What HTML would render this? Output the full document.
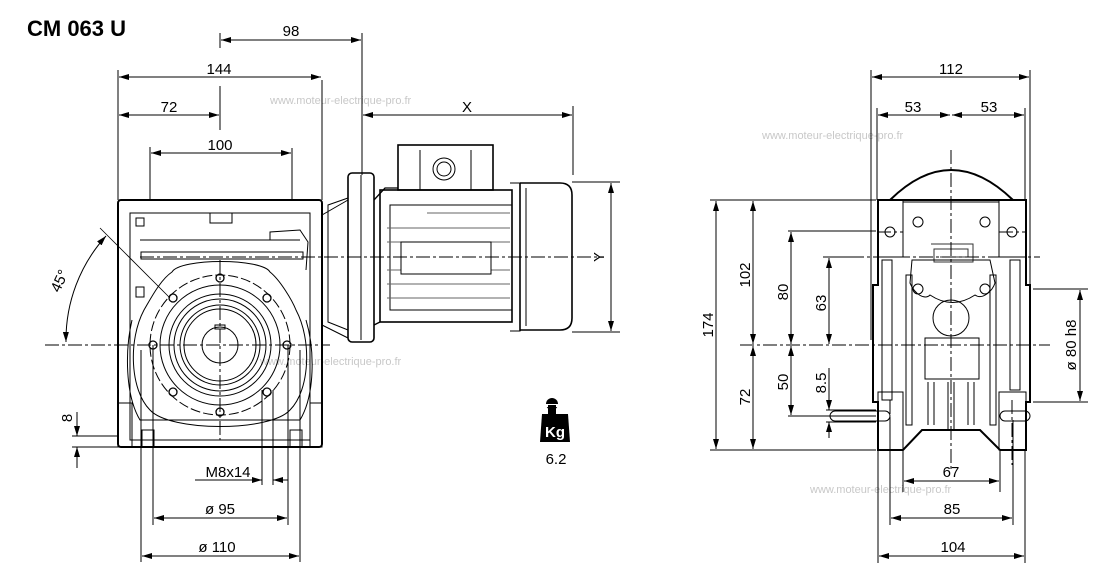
<!DOCTYPE html>
<html><head><meta charset="utf-8"><style>
html,body{margin:0;padding:0;background:#fff;}
svg{display:block;font-family:"Liberation Sans",Arial,sans-serif;}
</style></head><body>
<svg width="1111" height="586" viewBox="0 0 1111 586" xmlns="http://www.w3.org/2000/svg">
<defs>
<marker id="a" viewBox="0 0 10 6" refX="10" refY="3" markerWidth="10" markerHeight="6" orient="auto-start-reverse" markerUnits="userSpaceOnUse"><path d="M0,0 L10,3 L0,6 Z" fill="#000"/></marker>
</defs>
<rect width="1111" height="586" fill="#fff"/>
<text x="27" y="36" font-size="22" font-weight="bold">CM 063 U</text>

<!-- watermarks -->
<g fill="#c8c8c8" font-size="11">
<text x="270" y="104">www.moteur-electrique-pro.fr</text>
<text x="762" y="139">www.moteur-electrique-pro.fr</text>
<text x="260" y="365">www.moteur-electrique-pro.fr</text>
<text x="810" y="493">www.moteur-electrique-pro.fr</text>
</g>

<g stroke="#000" fill="none" stroke-width="1">
<!-- ===== LEFT VIEW dims ===== -->
<line x1="220" y1="33" x2="220" y2="48"/><line x1="362" y1="33" x2="362" y2="175"/>
<line x1="221" y1="40" x2="361" y2="40" marker-start="url(#a)" marker-end="url(#a)"/>
<line x1="118" y1="70" x2="118" y2="200"/><line x1="322" y1="80" x2="322" y2="200"/>
<line x1="119" y1="77" x2="321" y2="77" marker-start="url(#a)" marker-end="url(#a)"/>
<line x1="220" y1="86" x2="220" y2="130"/>
<line x1="119" y1="115" x2="219" y2="115" marker-start="url(#a)" marker-end="url(#a)"/>
<line x1="150" y1="147" x2="150" y2="200"/><line x1="292" y1="148" x2="292" y2="200"/>
<line x1="151" y1="153" x2="291" y2="153" marker-start="url(#a)" marker-end="url(#a)"/>
<line x1="363" y1="115" x2="572" y2="115" marker-start="url(#a)" marker-end="url(#a)"/>
<line x1="573" y1="106" x2="573" y2="175"/>
<line x1="572" y1="182" x2="620" y2="182"/><line x1="572" y1="332" x2="620" y2="332"/>
<line x1="611" y1="183" x2="611" y2="331" marker-start="url(#a)" marker-end="url(#a)"/>
<!-- 8 -->
<line x1="72" y1="436" x2="118" y2="436"/><line x1="72" y1="447" x2="118" y2="447"/>
<line x1="77" y1="412" x2="77" y2="436" marker-end="url(#a)"/>
<line x1="77" y1="468" x2="77" y2="447" marker-end="url(#a)"/>
<!-- M8x14 / diam -->
<line x1="262" y1="390" x2="262" y2="485"/><line x1="273" y1="390" x2="273" y2="485"/>
<line x1="195" y1="480" x2="262" y2="480" marker-end="url(#a)"/>
<line x1="288" y1="480" x2="273" y2="480" marker-end="url(#a)"/>
<line x1="153" y1="345" x2="153" y2="525"/><line x1="288" y1="345" x2="288" y2="525"/>
<line x1="154" y1="518" x2="287" y2="518" marker-start="url(#a)" marker-end="url(#a)"/>
<line x1="141" y1="350" x2="141" y2="562"/><line x1="300" y1="350" x2="300" y2="562"/>
<line x1="142" y1="556" x2="299" y2="556" marker-start="url(#a)" marker-end="url(#a)"/>
<!-- 45 deg -->
<line x1="100" y1="228" x2="170" y2="298" stroke-width="0.8"/>
<path d="M106 236 A155 155 0 0 0 66 342" marker-start="url(#a)" marker-end="url(#a)"/>

<!-- gearbox -->
<rect x="118" y="200" width="204" height="247" rx="3" stroke-width="2"/>
<rect x="130" y="213" width="180" height="227" stroke-width="1"/>
<line x1="140" y1="240" x2="300" y2="240"/>
<rect x="141" y="252" width="162" height="7"/>
<rect x="210" y="213" width="22" height="10"/>
<rect x="136" y="218" width="8" height="8"/>
<rect x="136" y="287" width="8" height="10"/>
<path d="M270 240 V232 L300 230 L308 242 L306 270"/>
<path d="M132 320 C125 350 125 395 140 420 L300 420 C315 395 315 350 306 320"/>
<path d="M172 272 C180 258 262 258 270 272 C280 280 292 300 296 310 C312 340 310 390 290 410 C270 432 170 432 150 410 C130 390 128 340 144 310 C150 300 160 280 172 272Z"/>
<circle cx="220" cy="345" r="70" stroke-dasharray="10 3"/>
<circle cx="220" cy="345" r="60"/>
<circle cx="220" cy="345" r="51"/>
<circle cx="220" cy="345" r="46"/>
<circle cx="220" cy="345" r="40"/>
<circle cx="220" cy="345" r="36"/>
<circle cx="220" cy="345" r="18"/>
<rect x="215" y="325" width="10" height="4"/>
<g stroke-width="1.3">
<circle cx="220" cy="278" r="4"/><circle cx="220" cy="412" r="4"/>
<circle cx="153" cy="345" r="4"/><circle cx="287" cy="345" r="4"/>
<circle cx="173" cy="298" r="4"/><circle cx="267" cy="298" r="4"/>
<circle cx="173" cy="392" r="4"/><circle cx="267" cy="392" r="4"/>
</g>
<!-- base feet -->
<rect x="118" y="403" width="14" height="44"/><rect x="310" y="403" width="12" height="44"/>
<rect x="142" y="430" width="12" height="17"/><rect x="290" y="430" width="12" height="17"/>
<!-- motor -->
<path d="M322 215 L348 200 M322 325 L348 338"/>
<path d="M328 205 L348 198 L348 330 L328 322 Z"/>
<rect x="348" y="173" width="26" height="169" rx="4" stroke-width="1.6"/>
<line x1="361" y1="175" x2="361" y2="340"/>
<path d="M374 200 L385 188 L398 188 M374 325 L380 322" stroke-width="1.3"/>
<rect x="380" y="190" width="132" height="132" stroke-width="1.6"/>
<rect x="390" y="205" width="122" height="105"/>
<g stroke="#666">
<line x1="427" y1="213" x2="510" y2="213"/>
<line x1="387" y1="228" x2="510" y2="228"/>
<line x1="387" y1="242" x2="510" y2="242"/>
<line x1="387" y1="270" x2="510" y2="270"/>
<line x1="387" y1="284" x2="510" y2="284"/>
<line x1="387" y1="298" x2="510" y2="298"/>
</g>
<rect x="401" y="242" width="90" height="32" fill="#fff"/>
<rect x="398" y="145" width="95" height="45" stroke-width="1.6"/>
<line x1="420" y1="150" x2="420" y2="190"/><line x1="471" y1="150" x2="471" y2="190"/>
<circle cx="444" cy="169" r="11"/><circle cx="444" cy="169" r="7"/>
<path d="M510 183 H520 V190 M510 331 H520 V325"/>
<path d="M520 183 H560 Q572 183 572 195 V318 Q572 330 560 330 H520" stroke-width="1.6"/>
<line x1="520" y1="183" x2="520" y2="331" stroke-width="1.6"/>
<line x1="526" y1="188" x2="526" y2="326"/>
</g>
<!-- center lines left -->
<g stroke="#000" stroke-width="1" stroke-dasharray="14 3 3 3" fill="none">
<line x1="45" y1="345" x2="330" y2="345"/>
<line x1="220" y1="260" x2="220" y2="440"/>
<line x1="140" y1="257" x2="598" y2="257"/>
</g>
<g font-size="15" fill="#000">
<text x="291" y="36" text-anchor="middle">98</text>
<text x="219" y="74" text-anchor="middle">144</text>
<text x="169" y="112" text-anchor="middle">72</text>
<text x="220" y="150" text-anchor="middle">100</text>
<text x="467" y="112" text-anchor="middle">X</text>
<text transform="translate(604,257) rotate(-90)" text-anchor="middle">Y</text>
<text transform="translate(72,418) rotate(-90)" text-anchor="middle">8</text>
<text transform="translate(64,283) rotate(-65)" text-anchor="middle">45°</text>
<text x="228" y="477" text-anchor="middle">M8x14</text>
<text x="220" y="514" text-anchor="middle">ø 95</text>
<text x="217" y="552" text-anchor="middle">ø 110</text>
<text x="556" y="464" text-anchor="middle">6.2</text>
</g>
<!-- Kg -->
<circle cx="552" cy="404" r="6" fill="#000"/>
<rect x="540" y="404" width="24" height="3" fill="#fff"/>
<rect x="548" y="405" width="8" height="9" fill="#000"/>
<path d="M542 414 H568 L570 442 H540 Z" fill="#000"/>
<text x="555" y="437" text-anchor="middle" font-size="15" font-weight="bold" fill="#fff">Kg</text>

<!-- ===== RIGHT VIEW ===== -->
<g stroke="#000" fill="none" stroke-width="1">
<line x1="871" y1="70" x2="871" y2="340"/><line x1="1030" y1="70" x2="1030" y2="340"/>
<line x1="872" y1="77" x2="1029" y2="77" marker-start="url(#a)" marker-end="url(#a)"/>
<line x1="877" y1="108" x2="877" y2="200"/><line x1="1025" y1="108" x2="1025" y2="200"/>
<line x1="878" y1="115" x2="950" y2="115" marker-start="url(#a)" marker-end="url(#a)"/>
<line x1="952" y1="115" x2="1024" y2="115" marker-start="url(#a)" marker-end="url(#a)"/>
<!-- verticals -->
<line x1="710" y1="200" x2="876" y2="200"/><line x1="710" y1="450" x2="876" y2="450"/>
<line x1="716" y1="201" x2="716" y2="449" marker-start="url(#a)" marker-end="url(#a)"/>
<line x1="753" y1="201" x2="753" y2="344" marker-start="url(#a)" marker-end="url(#a)"/>
<line x1="753" y1="346" x2="753" y2="449" marker-start="url(#a)" marker-end="url(#a)"/>
<line x1="788" y1="231" x2="876" y2="231"/>
<line x1="791" y1="232" x2="791" y2="344" marker-start="url(#a)" marker-end="url(#a)"/>
<line x1="791" y1="346" x2="791" y2="415" marker-start="url(#a)" marker-end="url(#a)"/>
<line x1="788" y1="416" x2="876" y2="416"/>
<line x1="823" y1="257" x2="850" y2="257"/>
<line x1="829" y1="258" x2="829" y2="344" marker-start="url(#a)" marker-end="url(#a)"/>
<line x1="826" y1="410" x2="876" y2="410"/><line x1="826" y1="422" x2="876" y2="422"/>
<line x1="829" y1="368" x2="829" y2="410" marker-end="url(#a)"/>
<line x1="829" y1="438" x2="829" y2="422" marker-end="url(#a)"/>
<line x1="1033" y1="289" x2="1088" y2="289"/><line x1="1033" y1="402" x2="1088" y2="402"/>
<line x1="1080" y1="290" x2="1080" y2="401" marker-start="url(#a)" marker-end="url(#a)"/>
<!-- bottom dims -->
<line x1="903" y1="450" x2="903" y2="492"/><line x1="1000" y1="450" x2="1000" y2="492"/>
<line x1="904" y1="481" x2="999" y2="481" marker-start="url(#a)" marker-end="url(#a)"/>
<line x1="890" y1="420" x2="890" y2="525"/><line x1="1013" y1="420" x2="1013" y2="525"/>
<line x1="891" y1="518" x2="1012" y2="518" marker-start="url(#a)" marker-end="url(#a)"/>
<line x1="878" y1="450" x2="878" y2="563"/><line x1="1025" y1="450" x2="1025" y2="563"/>
<line x1="879" y1="556" x2="1024" y2="556" marker-start="url(#a)" marker-end="url(#a)"/>

<!-- body -->
<path d="M890 200 Q951 140 1013 200" stroke-width="2"/>
<path d="M878 200 H1026 V285 H1030 V402 H1026 V450 H1000 L980 430 H922 L903 450 H878 V402 H873 V285 H878 Z" stroke-width="2"/>
<rect x="878" y="200" width="25" height="57"/><rect x="999" y="200" width="27" height="57"/>
<line x1="903" y1="202" x2="999" y2="202"/>
<circle cx="890" cy="232" r="5"/><circle cx="1012" cy="232" r="5"/>
<circle cx="918" cy="222" r="5"/><circle cx="985" cy="222" r="5"/>
<path d="M931 244 H973 V262 H934 V249 H968 V257 H940" stroke="#333"/>
<path d="M910 283 C915 295 925 300 930 295 C945 305 960 305 975 295 C982 300 992 292 995 283 L990 260 H912 Z"/>
<circle cx="918" cy="289" r="5"/><circle cx="985" cy="289" r="5"/>
<circle cx="951" cy="318" r="18"/>
<rect x="925" y="338" width="54" height="41"/>
<rect x="882" y="260" width="10" height="140"/><rect x="1010" y="260" width="10" height="130"/>
<rect x="906" y="275" width="6" height="150"/><rect x="990" y="275" width="6" height="150"/>
<rect x="878" y="392" width="25" height="58"/><rect x="999" y="392" width="27" height="58"/>
<path d="M928 382 V425 M934 382 V425 M948 382 V430 M954 382 V430 M968 382 V425 M974 382 V425"/>
<rect x="830" y="411" width="60" height="10" rx="5"/>
<rect x="1000" y="411" width="30" height="10" rx="5"/>
</g>
<g stroke="#000" stroke-width="1" stroke-dasharray="14 3 3 3" fill="none">
<line x1="951" y1="150" x2="951" y2="470"/>
<line x1="740" y1="345" x2="1050" y2="345"/>
<line x1="850" y1="257" x2="1040" y2="257"/>
<line x1="877" y1="232" x2="903" y2="232"/><line x1="999" y1="232" x2="1026" y2="232"/>
<line x1="890" y1="400" x2="890" y2="465"/><line x1="1012" y1="400" x2="1012" y2="465"/>
</g>
<g font-size="15" fill="#000">
<text x="951" y="74" text-anchor="middle">112</text>
<text x="913" y="112" text-anchor="middle">53</text>
<text x="989" y="112" text-anchor="middle">53</text>
<text transform="translate(713,325) rotate(-90)" text-anchor="middle">174</text>
<text transform="translate(750,275) rotate(-90)" text-anchor="middle">102</text>
<text transform="translate(750,397) rotate(-90)" text-anchor="middle">72</text>
<text transform="translate(788,292) rotate(-90)" text-anchor="middle">80</text>
<text transform="translate(788,382) rotate(-90)" text-anchor="middle">50</text>
<text transform="translate(826,303) rotate(-90)" text-anchor="middle">63</text>
<text transform="translate(826,383) rotate(-90)" text-anchor="middle">8.5</text>
<text transform="translate(1076,345) rotate(-90)" text-anchor="middle">ø 80 h8</text>
<text x="951" y="477" text-anchor="middle">67</text>
<text x="952" y="514" text-anchor="middle">85</text>
<text x="953" y="552" text-anchor="middle">104</text>
</g>
</svg>
</body></html>
